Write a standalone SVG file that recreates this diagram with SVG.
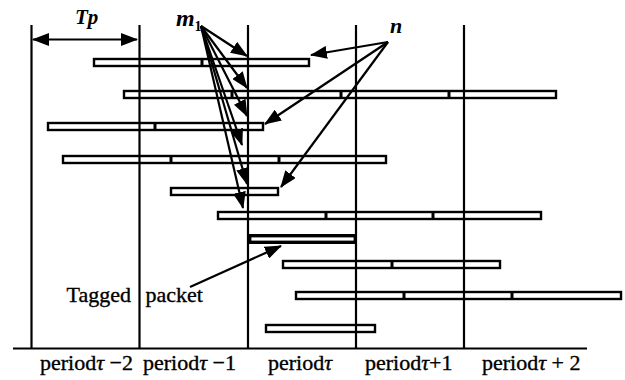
<svg xmlns="http://www.w3.org/2000/svg" width="625" height="380" viewBox="0 0 625 380">
<defs>
<marker id="ah" viewBox="0 0 17 13" refX="16" refY="6.5" markerWidth="17" markerHeight="13" markerUnits="userSpaceOnUse" orient="auto-start-reverse">
<path d="M0,0 L17,6.5 L0,13 z" fill="#000"/>
</marker>
<style>
.ln{stroke:#000;stroke-width:2.2;fill:none}
.bar{stroke:#000;stroke-width:2.4;fill:none}
.div{stroke:#000;stroke-width:3}
.arr{stroke:#000;stroke-width:2.2;fill:none;marker-end:url(#ah)}
.lbl{font-family:'Liberation Serif','Times New Roman',serif;font-size:22px;fill:#000;stroke:#000;stroke-width:0.35}
.sym{font-family:'Liberation Serif','Times New Roman',serif;font-weight:bold;font-style:italic;fill:#000}
</style>
</defs>
<rect width="625" height="380" fill="#fff"/>
<g id="grid">
<line class="ln" x1="31.5" y1="25" x2="31.5" y2="348"/>
<line class="ln" x1="139.5" y1="25" x2="139.5" y2="348"/>
<line class="ln" x1="248" y1="25" x2="248" y2="348"/>
<line class="ln" x1="356" y1="25" x2="356" y2="348"/>
<line class="ln" x1="464" y1="25" x2="464" y2="348"/>
<line class="ln" x1="13" y1="348.5" x2="587" y2="348.5"/>
</g>
<g id="tp">
<line class="ln" x1="33" y1="39.5" x2="137" y2="39.5" marker-start="url(#ah)" marker-end="url(#ah)"/>
<text class="sym" x="75" y="24" font-size="21">Tp</text>
</g>
<g id="bar1"><rect class="bar" x="94" y="59" width="215" height="7"/><line class="div" x1="202" y1="59" x2="202" y2="66"/></g>
<g id="bar2"><rect class="bar" x="124" y="91" width="432" height="7"/><line class="div" x1="232" y1="91" x2="232" y2="98"/><line class="div" x1="341" y1="91" x2="341" y2="98"/><line class="div" x1="449" y1="91" x2="449" y2="98"/></g>
<g id="bar3"><rect class="bar" x="48" y="123" width="215" height="7"/><line class="div" x1="155" y1="123" x2="155" y2="130"/></g>
<g id="bar4"><rect class="bar" x="63" y="156" width="323" height="7"/><line class="div" x1="171" y1="156" x2="171" y2="163"/><line class="div" x1="279" y1="156" x2="279" y2="163"/></g>
<g id="bar5"><rect class="bar" x="171" y="188" width="107" height="7"/></g>
<g id="bar6"><rect class="bar" x="218" y="212" width="323" height="7"/><line class="div" x1="326" y1="212" x2="326" y2="219"/><line class="div" x1="433" y1="212" x2="433" y2="219"/></g>
<g id="tagged-bar"><rect x="249.7" y="235.7" width="105.6" height="6.6" fill="none" stroke="#000" stroke-width="3.4"/></g>
<g id="bar8"><rect class="bar" x="283" y="261" width="217" height="7"/><line class="div" x1="392" y1="261" x2="392" y2="268"/></g>
<g id="bar9"><rect class="bar" x="296" y="292" width="325" height="7"/><line class="div" x1="404" y1="292" x2="404" y2="299"/><line class="div" x1="512" y1="292" x2="512" y2="299"/></g>
<g id="bar10"><rect class="bar" x="266" y="325" width="109" height="7"/></g>
<g id="m1">
<text class="sym" x="176" y="26" font-size="24">m</text>
<text x="194.5" y="31" font-family="'Liberation Serif','Times New Roman',serif" font-weight="bold" font-size="14">1</text>
</g>
<g id="n">
<text class="sym" x="390" y="33" font-size="22">n</text>
</g>
<g id="connectors">
<line class="arr" x1="201" y1="26" x2="247" y2="56"/>
<line class="arr" x1="201" y1="26" x2="247" y2="88"/>
<line class="arr" x1="201" y1="26" x2="247" y2="116"/>
<line class="arr" x1="201" y1="26" x2="242" y2="145"/>
<line class="arr" x1="201" y1="26" x2="247" y2="184"/>
<line class="arr" x1="201" y1="26" x2="243" y2="208"/>
<line class="arr" x1="388" y1="42" x2="311" y2="55"/>
<line class="arr" x1="388" y1="42" x2="265" y2="124"/>
<line class="arr" x1="388" y1="42" x2="281" y2="187"/>
<line class="arr" x1="190" y1="287" x2="281" y2="246"/>
</g>
<g id="tagged-label">
<text class="lbl" x="66.5" y="301.5" word-spacing="9">Tagged packet</text>
</g>
<g id="axis-labels">
<text class="lbl" x="40" y="370">period<tspan font-style="italic">τ</tspan> −2</text>
<text class="lbl" x="143" y="370">period<tspan font-style="italic">τ</tspan> −1</text>
<text class="lbl" x="268" y="370">period<tspan font-style="italic">τ</tspan></text>
<text class="lbl" x="365" y="370" font-size="21">period<tspan font-style="italic">τ</tspan>+1</text>
<text class="lbl" x="482" y="370">period<tspan font-style="italic">τ</tspan> + 2</text>
</g>
</svg>
